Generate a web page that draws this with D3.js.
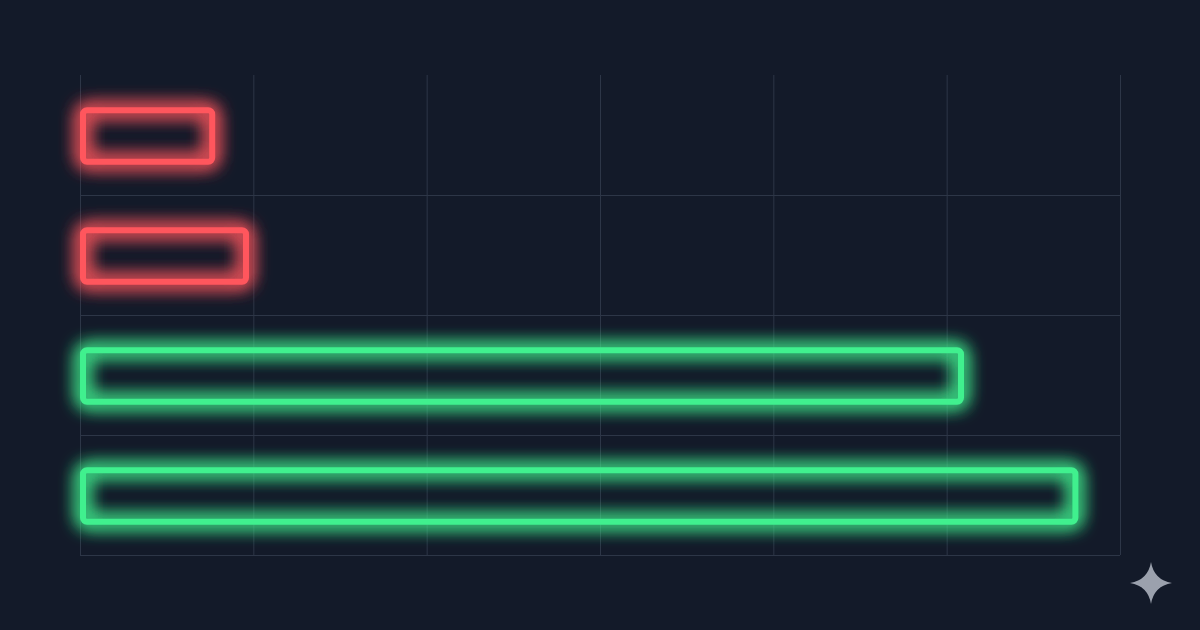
<!DOCTYPE html>
<html lang="en">
  <head>
    <meta charset="utf-8" />
    <title>Neon bar chart</title>
    <script src="https://d3js.org/d3.v7.min.js"></script>
    <style type="text/css">
      html, body { margin: 0; padding: 0; background: #131a29; }
      svg { display: block; }
    </style>
  </head>
  <body>
    <script type="text/javascript">
      const w = 1200;
      const h = 630;

      // data (no labels shown in the reference)
      const categories = ['A', 'B', 'C', 'D'];
      const values = [7.8, 9.75, 51, 57.6];
      const barColors = ['#ff565d', '#ff565d', '#40f08e', '#40f08e'];
      const gridTicks = [0, 10, 20, 30, 40, 50, 60];

      const margin = { top: 75, right: 80, bottom: 75, left: 80 };

      const xScale = d3.scaleLinear()
        .domain([0, 60])
        .range([margin.left, w - margin.right]);

      const yScale = d3.scaleBand()
        .domain(categories)
        .range([margin.top, h - margin.bottom])
        .paddingInner(0.52)
        .paddingOuter(0.26);

      const svg = d3.select('body').append('svg').attr('width', w).attr('height', h);

      svg.append('rect').attr('width', w).attr('height', h).attr('fill', '#131a29');

      // glow filter: blurred halo only, crisp line drawn on top
      const defs = svg.append('defs');
      const glow = defs.append('filter')
        .attr('id', 'glow')
        .attr('x', '-20%').attr('y', '-80%')
        .attr('width', '140%').attr('height', '260%');
      glow.append('feGaussianBlur').attr('in', 'SourceGraphic').attr('stdDeviation', 9).attr('result', 'b1');
      const merge = glow.append('feMerge');
      merge.append('feMergeNode').attr('in', 'b1');
      merge.append('feMergeNode').attr('in', 'b1');

      // grid
      const grid = svg.append('g').attr('stroke', '#2d3647').attr('stroke-width', 1);
      grid.selectAll('line.v')
        .data(gridTicks)
        .enter()
        .append('line')
        .attr('class', 'v')
        .attr('x1', (d) => xScale(d) + 0.5)
        .attr('x2', (d) => xScale(d) + 0.5)
        .attr('y1', margin.top)
        .attr('y2', h - margin.bottom);

      const rowLines = categories.slice(1).map((c) => yScale(c) - yScale.step() * yScale.paddingInner() / 2);
      rowLines.push(h - margin.bottom);
      grid.selectAll('line.hz')
        .data(rowLines)
        .enter()
        .append('line')
        .attr('class', 'hz')
        .attr('x1', xScale(0))
        .attr('x2', xScale(60))
        .attr('y1', (d) => Math.round(d) + 0.5)
        .attr('y2', (d) => Math.round(d) + 0.5);

      // bars: neon outlines
      const sw = 6;
      const bars = svg.append('g')
        .selectAll('g')
        .data(values)
        .enter()
        .append('g')
        .attr('transform', (d, i) => `translate(0,${yScale(categories[i]) + 1})`);

      // halo
      bars.append('rect')
        .attr('x', xScale(0) + sw / 2)
        .attr('y', sw / 2)
        .attr('width', (d) => xScale(d) - xScale(0) - sw)
        .attr('height', yScale.bandwidth() - sw)
        .attr('rx', 4)
        .attr('fill', 'none')
        .attr('stroke', (d, i) => barColors[i])
        .attr('stroke-width', sw + 4)
        .attr('filter', 'url(#glow)');

      // crisp tube
      bars.append('rect')
        .attr('x', xScale(0) + sw / 2)
        .attr('y', sw / 2)
        .attr('width', (d) => xScale(d) - xScale(0) - sw)
        .attr('height', yScale.bandwidth() - sw)
        .attr('rx', 4)
        .attr('fill', 'none')
        .attr('stroke', (d, i) => barColors[i])
        .attr('stroke-width', sw);

      // sparkle mark, bottom right
      const cx = 1151, cy = 583, r = 21;
      svg.append('path')
        .attr('d', `M${cx},${cy - r} Q${cx + 3},${cy - 3} ${cx + r},${cy} Q${cx + 3},${cy + 3} ${cx},${cy + r} Q${cx - 3},${cy + 3} ${cx - r},${cy} Q${cx - 3},${cy - 3} ${cx},${cy - r}Z`)
        .attr('fill', '#9ba1ad');
    </script>
  </body>
</html>
